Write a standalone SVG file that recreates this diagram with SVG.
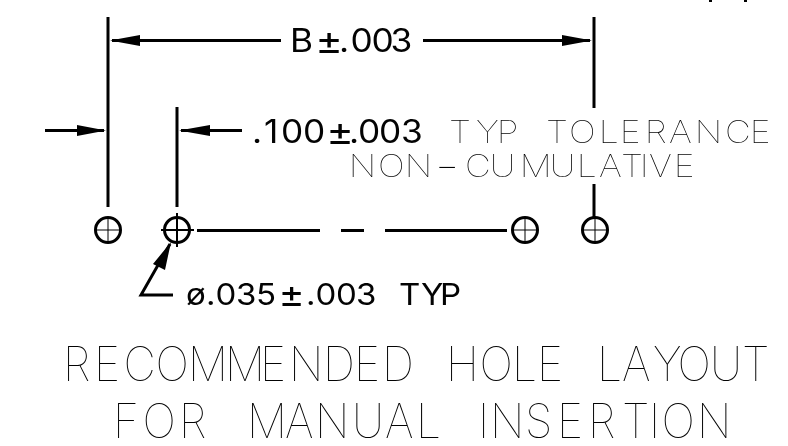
<svg xmlns="http://www.w3.org/2000/svg" width="788" height="446" viewBox="0 0 788 446">
<style>
.l{stroke:#000;stroke-width:3;fill:none}
.a{fill:#000}
.c{stroke:#000;stroke-width:3;fill:#fff}
.x{stroke:#000;stroke-width:1;fill:none}
.t{font-family:Inter,"Liberation Sans",sans-serif;font-weight:400;fill:#000}
.h{font-family:Inter,"Liberation Sans",sans-serif;font-weight:100;fill:#000}
</style>
<rect width="788" height="446" fill="#fff"/>
<g id="connectors">
<path class="l" d="M108 17V207M177 107V207M594 17V108M594 184V217"/>
<path class="l" d="M112 40.5H281M423 40.5H590M45 130.5H104M181 130.5H242"/>
<path class="l" d="M197 230.5H320M341 230.5H364M385 230.5H507"/>
<path class="l" d="M173 295H141L170 244"/>
<path class="a" d="M110 40.5L140 35V46ZM592 40.5L562 35V46ZM106 130.5L77 125V136ZM179 130.5L210 125V136ZM171 242L153 264L165 270Z"/>
<path class="a" d="M709 0h3v2h-3zM744 0h3v2h-3z"/>
</g>
<g id="hole1"><circle class="c" cx="108" cy="230" r="12.5"/><path class="x" d="M96 230H120M108 218V242"/></g>
<g id="hole2"><circle class="c" cx="177" cy="230" r="12.5"/><path class="l" d="M161 230H194M177 213V247" style="stroke-width:2"/></g>
<g id="hole3"><circle class="c" cx="525" cy="230" r="12.5"/><path class="x" d="M513 230H537M525 218V242"/></g>
<g id="hole4"><circle class="c" cx="595" cy="230" r="12.5"/><path class="x" d="M583 230H607M595 218V242"/></g>
<g id="labels" opacity=".99">
<text class="t" transform="scale(1.1,1)" y="52" font-size="32"><tspan x="263.7">B</tspan><tspan x="286.5" dy="2" font-size="38">±</tspan><tspan x="308.2 318.6 337.7 355" dy="-2">.003</tspan></text>
<text class="t" transform="scale(1.1,1)" y="143" font-size="32"><tspan x="229.1 240 255.5 275.5">.100</tspan><tspan x="296.5" dy="2" font-size="38">±</tspan><tspan x="317.3 325.5 344.5 364.5" dy="-2">.003</tspan></text>
<text class="h" transform="scale(1.15,1)" y="143" font-size="31" x="390.4 413.9 432 450 474.8 494.8 520.7 539 560.7 581.7 604.2 630.4 652">TYP TOLERANCE</text>
<text class="h" transform="scale(1.15,1)" y="177" font-size="31"><tspan x="303.3 328.7 352">NON</tspan><tspan x="377.8" dy="6" font-size="50">-</tspan><tspan x="404.3 425.9 452 478 501.6 520.9 540 556.3 564.3 585.9" dy="-6">CUMULATIVE</tspan></text>
<text class="t" transform="scale(1.1,1)" y="305" font-size="30"><tspan x="169.1 187.3 195.9 214.5 232.7">ø.035</tspan><tspan x="253.2" dy="2" font-size="36">±</tspan><tspan x="278.2 286.8 305.5 323.6 345.5 362.7 382.7 400" dy="-2">.003 TYP</tspan></text>
<text class="h" transform="scale(.95,1)" y="381" font-size="47" x="66.3 98.9 130 163.7 197.9 236.8 273.7 304.2 340 372.6 402.1 442 469.5 504.7 538.9 565.3 600 628.4 654.7 687.4 713.2 747.4 781">RECOMMENDED HOLE LAYOUT</text>
<text class="h" transform="scale(.95,1)" y="438" font-size="47" x="118.9 150 188.4 231.6 260 300 331.6 370.5 405.3 437.9 473.7 503.2 515.8 552.6 586.3 618.9 654.7 683.2 696.3 733.7">FOR MANUAL INSERTION</text>
</g>
</svg>
